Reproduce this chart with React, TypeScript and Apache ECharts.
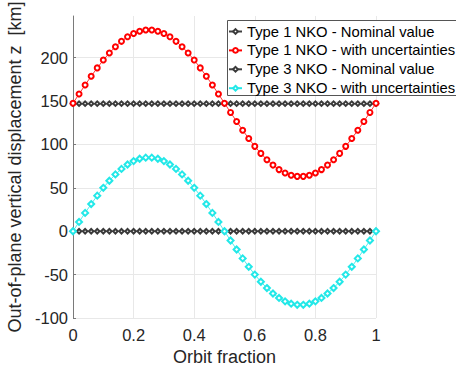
import React, { useEffect, useRef } from "react";
import * as echarts from "echarts";

const xs = [0, 0.02, 0.04, 0.06, 0.08, 0.1, 0.12, 0.14, 0.16, 0.18, 0.2, 0.22, 0.24, 0.26, 0.28, 0.3, 0.32, 0.34, 0.36, 0.38, 0.4, 0.42, 0.44, 0.46, 0.48, 0.5, 0.52, 0.54, 0.56, 0.58, 0.6, 0.62, 0.64, 0.66, 0.68, 0.7, 0.72, 0.74, 0.76, 0.78, 0.8, 0.82, 0.84, 0.86, 0.88, 0.9, 0.92, 0.94, 0.96, 0.98, 1];

const type1Nominal = [147, 147, 147, 147, 147, 147, 147, 147, 147, 147, 147, 147, 147, 147, 147, 147, 147, 147, 147, 147, 147, 147, 147, 147, 147, 147, 147, 147, 147, 147, 147, 147, 147, 147, 147, 147, 147, 147, 147, 147, 147, 147, 147, 147, 147, 147, 147, 147, 147, 147, 147];

const type1Uncert = [147.5, 158.1, 168.5, 178.6, 188.2, 197.2, 205.3, 212.6, 218.8, 224.0, 227.9, 230.5, 231.8, 231.8, 230.5, 227.9, 224.0, 218.8, 212.6, 205.3, 197.2, 188.2, 178.6, 168.5, 158.1, 147.5, 136.9, 126.5, 116.4, 106.8, 97.8, 89.7, 82.4, 76.2, 71.0, 67.1, 64.5, 63.2, 63.2, 64.5, 67.1, 71.0, 76.2, 82.4, 89.7, 97.8, 106.8, 116.4, 126.5, 136.9, 147.5];

const type3Nominal = [0, 0, 0, 0, 0, 0, 0, 0, 0, 0, 0, 0, 0, 0, 0, 0, 0, 0, 0, 0, 0, 0, 0, 0, 0, 0, 0, 0, 0, 0, 0, 0, 0, 0, 0, 0, 0, 0, 0, 0, 0, 0, 0, 0, 0, 0, 0, 0, 0, 0, 0];

const type3Uncert = [0, 10.7, 21.1, 31.3, 41.0, 50.0, 58.2, 65.5, 71.8, 76.9, 80.8, 83.5, 84.8, 84.8, 83.5, 80.8, 76.9, 71.8, 65.5, 58.2, 50.0, 41.0, 31.3, 21.1, 10.7, 0, -10.7, -21.1, -31.3, -41.0, -50.0, -58.2, -65.5, -71.8, -76.9, -80.8, -83.5, -84.8, -84.8, -83.5, -80.8, -76.9, -71.8, -65.5, -58.2, -50.0, -41.0, -31.3, -21.1, -10.7, 0];

const yTicks = [-100, -50, 0, 50, 100, 150, 200];

const seriesNames = [
  "Type 1 NKO - Nominal value",
  "Type 1 NKO - with uncertainties",
  "Type 3 NKO - Nominal value",
  "Type 3 NKO - with uncertainties",
];

const FONT = "'Liberation Sans', Arial, Helvetica, sans-serif";
const TXT = "#262626";
const AXL = "#7a7a7a";
const GRID = "#e8e8e8";

function pairs(ys: number[]) {
  return xs.map((x, i) => [x, ys[i]]);
}

export default function App() {
  const ref = useRef<HTMLDivElement>(null);
  useEffect(() => {
    if (!ref.current) return;
    const chart = echarts.init(ref.current, null, { renderer: "svg" });
    chart.setOption({
      animation: false,
      backgroundColor: "#ffffff",
      textStyle: { fontFamily: FONT },
      grid: { left: 73, top: 16, right: 80, bottom: 55, outerBoundsMode: "none", containLabel: false },
      graphic: [
        {
          type: "rect",
          left: 227,
          top: 20,
          z: 3,
          shape: { width: 260, height: 75 },
          style: { fill: "#ffffff", stroke: "#555555", lineWidth: 1 },
        },
      ],
      legend: {
        orient: "vertical",
        left: 227,
        top: 20,
        z: 5,
        padding: [4, 6, 3, 1],
        itemWidth: 13,
        itemHeight: 6,
        itemGap: 3.9,
        backgroundColor: "transparent",
        borderWidth: 0,
        textStyle: { fontSize: 14.8, color: "#000000", fontFamily: FONT },
        data: seriesNames,
      },
      xAxis: {
        type: "value",
        min: 0,
        max: 1,
        interval: 0.2,
        name: "Orbit fraction",
        nameLocation: "middle",
        nameGap: 27,
        nameTextStyle: { fontSize: 18, color: TXT, fontFamily: FONT },
        axisLine: { show: true, lineStyle: { color: AXL, width: 1 } },
        axisTick: { show: true, inside: true, length: 3, lineStyle: { color: AXL } },
        axisLabel: { fontSize: 16.5, color: TXT, margin: 8, fontFamily: FONT },
        splitLine: { show: true, lineStyle: { color: GRID, width: 1 } },
      },
      yAxis: {
        type: "value",
        min: -100,
        max: 248,
        interval: 50,
        name: "Out-of-plane vertical displacement z  [km]",
        nameLocation: "middle",
        nameGap: 46,
        nameTextStyle: { fontSize: 18, color: TXT, fontFamily: FONT },
        axisLine: { show: true, lineStyle: { color: AXL, width: 1 } },
        axisTick: { show: true, inside: true, length: 3, lineStyle: { color: AXL }, customValues: yTicks },
        axisLabel: { fontSize: 16.5, color: TXT, margin: 5, fontFamily: FONT, customValues: yTicks },
        splitLine: {
          show: true,
          lineStyle: {
            color: [GRID, GRID, GRID, GRID, GRID, GRID, GRID, "rgba(0,0,0,0)"],
            width: 1,
          },
        },
      },
      series: [
        {
          name: seriesNames[0],
          type: "line",
          data: pairs(type1Nominal),
          symbol: "emptyDiamond",
          symbolSize: 4.5,
          lineStyle: { color: "#404040", width: 1 },
          itemStyle: { color: "#3a3a3a", borderWidth: 0.8 },
          z: 2,
        },
        {
          name: seriesNames[1],
          type: "line",
          data: pairs(type1Uncert),
          symbol: "emptyCircle",
          symbolSize: 5,
          lineStyle: { color: "#ff0000", width: 0.8 },
          itemStyle: { color: "#ff0000", borderWidth: 1 },
          z: 2,
        },
        {
          name: seriesNames[2],
          type: "line",
          data: pairs(type3Nominal),
          symbol: "emptyDiamond",
          symbolSize: 4.5,
          lineStyle: { color: "#404040", width: 1 },
          itemStyle: { color: "#3a3a3a", borderWidth: 0.8 },
          z: 2,
        },
        {
          name: seriesNames[3],
          type: "line",
          data: pairs(type3Uncert),
          symbol: "emptyDiamond",
          symbolSize: 6,
          lineStyle: { color: "#22e8e8", width: 0.8 },
          itemStyle: { color: "#22e8e8", borderWidth: 1 },
          z: 2,
        },
      ],
    });
    return () => chart.dispose();
  }, []);
  return (
    <div
      ref={ref}
      style={{ position: "fixed", left: 0, top: 0, width: 456, height: 373 }}
    />
  );
}
